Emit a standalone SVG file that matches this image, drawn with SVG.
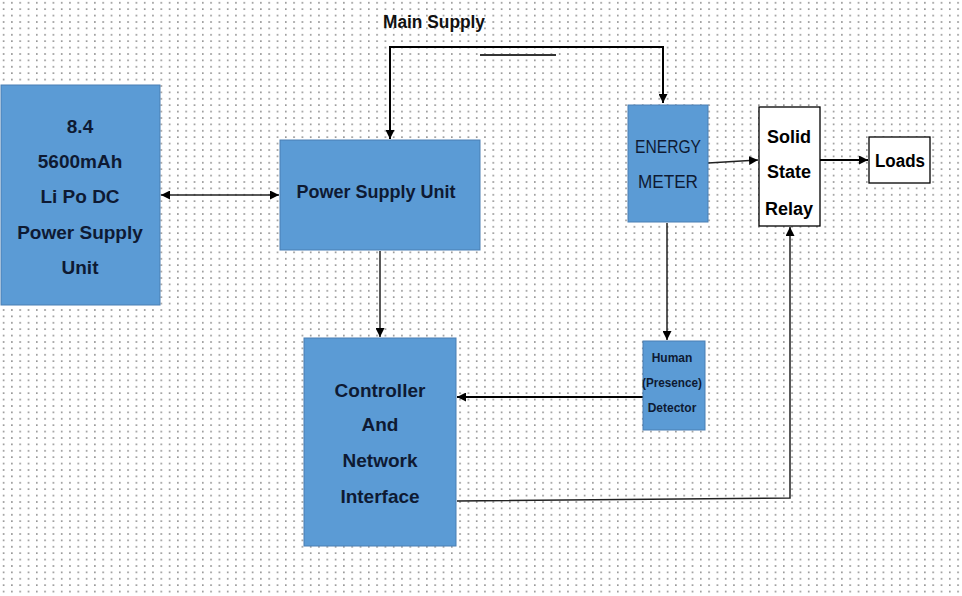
<svg xmlns="http://www.w3.org/2000/svg" width="962" height="596" viewBox="0 0 962 596">
<defs>
<pattern id="dots" x="0" y="0" width="8.3" height="6.4" patternUnits="userSpaceOnUse">
<rect x="3" y="2" width="1.2" height="1.6" fill="#666"/>
</pattern>
<marker id="ah" viewBox="0 0 10 10" refX="10" refY="5" markerWidth="9" markerHeight="9" markerUnits="userSpaceOnUse" orient="auto-start-reverse">
<path d="M0,0 L10,5 L0,10 z" fill="#000"/>
</marker>
<marker id="ahs" viewBox="0 0 10 10" refX="10" refY="5" markerWidth="7" markerHeight="7" markerUnits="userSpaceOnUse" orient="auto-start-reverse">
<path d="M0,0 L10,5 L0,10 z" fill="#000"/>
</marker>
</defs>
<style>
.blue{fill:#5b9bd5;stroke:#4a7fb3;stroke-width:1}
.white{fill:#fff;stroke:#000;stroke-width:1.3}
.t{font-family:"Liberation Sans",Arial,sans-serif;font-weight:bold;fill:#0e1a33;text-anchor:middle}
.tn{font-family:"Liberation Sans",Arial,sans-serif;fill:#0e1a33;text-anchor:middle}
.c{fill:none;stroke:#000;stroke-width:2}
.c1{fill:none;stroke:#222;stroke-width:1.5}
</style>
<rect width="962" height="596" fill="#fff"/>
<rect width="962" height="596" fill="url(#dots)"/>

<text x="434" y="28" class="t" style="font-size:18px;fill:#111;font-weight:bold" textLength="102" lengthAdjust="spacingAndGlyphs">Main Supply</text>

<g id="connectors">
<polyline class="c" points="390,47 663,47 663,103" marker-end="url(#ah)"/>
<line class="c" x1="390" y1="46" x2="390" y2="139" marker-end="url(#ah)"/>
<line x1="480" y1="55" x2="556" y2="55" stroke="#333" stroke-width="2"/>
<line class="c1" x1="161" y1="195" x2="279" y2="195" marker-start="url(#ah)" marker-end="url(#ah)"/>
<line class="c1" x1="380" y1="251" x2="380" y2="337" marker-end="url(#ah)"/>
<line class="c1" x1="708" y1="163" x2="758" y2="160" marker-end="url(#ah)"/>
<line class="c" x1="820" y1="160" x2="868" y2="160" marker-end="url(#ah)"/>
<line class="c1" x1="667" y1="223" x2="667" y2="340" marker-end="url(#ah)"/>
<line class="c" x1="643" y1="397" x2="457" y2="397" marker-end="url(#ah)"/>
<polyline class="c1" points="457,501 790,498 790,227" marker-end="url(#ah)"/>
</g>

<g id="battery">
<rect class="blue" x="1" y="85" width="159" height="220"/>
<g class="t" style="font-size:19px">
<text x="80" y="133">8.4</text>
<text x="80" y="168">5600mAh</text>
<text x="80" y="203">Li Po DC</text>
<text x="80" y="239">Power Supply</text>
<text x="80" y="274">Unit</text>
</g>
</g>

<g id="psu">
<rect class="blue" x="280" y="140" width="200" height="110"/>
<text x="376" y="198" class="t" style="font-size:18px">Power Supply Unit</text>
</g>

<g id="energy-meter">
<rect class="blue" x="628" y="105" width="80" height="117"/>
<text x="668" y="153" class="tn" style="font-size:18px" textLength="66" lengthAdjust="spacingAndGlyphs">ENERGY</text>
<text x="668" y="188" class="tn" style="font-size:18px" textLength="60" lengthAdjust="spacingAndGlyphs">METER</text>
</g>

<g id="ssr">
<rect class="white" x="759" y="107" width="61" height="119"/>
<g class="t" style="font-size:18px;fill:#000">
<text x="789" y="143">Solid</text>
<text x="789" y="178">State</text>
<text x="789" y="215">Relay</text>
</g>
</g>

<g id="loads">
<rect class="white" x="869" y="137" width="61" height="46"/>
<text x="900" y="167" class="t" style="font-size:18px;fill:#000" textLength="50" lengthAdjust="spacingAndGlyphs">Loads</text>
</g>

<g id="human-detector">
<rect class="blue" x="643" y="341" width="62" height="89"/>
<g class="t" style="font-size:12px">
<text x="672" y="362">Human</text>
<text x="672" y="387" textLength="60" lengthAdjust="spacingAndGlyphs">(Presence)</text>
<text x="672" y="412">Detector</text>
</g>
</g>

<g id="controller">
<rect class="blue" x="304" y="338" width="152" height="208"/>
<g class="t" style="font-size:19px">
<text x="380" y="397">Controller</text>
<text x="380" y="431">And</text>
<text x="380" y="467">Network</text>
<text x="380" y="503">Interface</text>
</g>
</g>
</svg>
